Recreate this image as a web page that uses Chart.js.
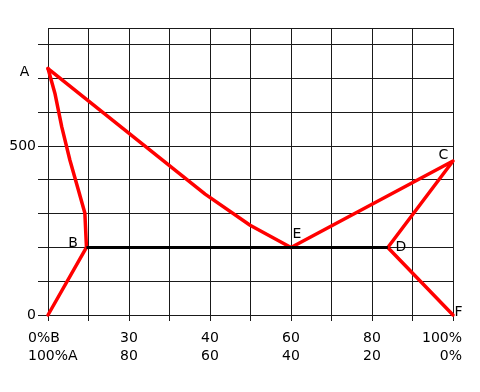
<!DOCTYPE html>
<html>
<head>
<meta charset="utf-8">
<script src="https://cdn.jsdelivr.net/npm/chart.js@4.4.0/dist/chart.umd.min.js"></script>
<style>
    body { margin: 0; background: #fff; }
</style>
</head>
<body>
<canvas id="chart" width="480" height="392"></canvas>
<script>
// x axis: % of B, tick labels written in two rows
let xTicks = [0, 20, 40, 60, 80, 100];
let xTopLabels = ['0%B', '30', '40', '60', '80', '100%'];
let xBottomLabels = ['100%A', '80', '60', '40', '20', '0%'];
// y axis: only these values carry a label
let yLabelValues = [0, 500];

// liquidus from A down to B
let curveABx = [0, 1.7, 3.4, 5.4, 7.5, 9.1, 9.5];
let curveABy = [730, 657, 557, 459, 370, 302, 200];
// liquidus from A down to E
let curveAEx = [0, 38.8, 49.9, 60];
let curveAEy = [730, 358, 266, 200];
// E -> C -> D -> F
let curveECDFx = [60, 100, 83.9, 100];
let curveECDFy = [200, 456, 200, 0];
// origin -> B
let curveOBx = [0, 9.5];
let curveOBy = [0, 200];
// eutectic line B -> D
let lineBDx = [9.5, 83.9];
let lineBDy = [200, 200];

// named points
let pointNames = ['A', 'B', 'C', 'D', 'E', 'F'];
let pointX = [0, 9.5, 100, 83.9, 60, 100];
let pointY = [730, 200, 456, 200, 200, 0];

function toXY(xs, ys) {
    let out = [];
    for (let i = 0; i < xs.length; i++) {
        out.push({x: xs[i], y: ys[i]});
    }
    return out;
}

let font = '14px "DejaVu Sans", sans-serif';
let gridColor = '#1a1a1a';

// label offsets from each point, in pixels
let nameOffsets = {
    A: [-23.5, 2], B: [-13.5, -5], C: [-9.5, -7],
    D: [13, -1], E: [6, -14], F: [5.5, -4]
};

let labelsPlugin = {
    id: 'labels',
    afterDraw: (chart) => {
        let ctx = chart.ctx;
        let xs = chart.scales.x;
        let ys = chart.scales.y;
        ctx.save();
        ctx.font = font;
        ctx.fillStyle = '#000';
        ctx.textBaseline = 'alphabetic';
        // x tick labels
        for (let i = 0; i < xTicks.length; i++) {
            let px = xs.getPixelForValue(xTicks[i]);
            if (i === 0) {
                ctx.textAlign = 'left';
                px -= 20;
            } else if (i === xTicks.length - 1) {
                ctx.textAlign = 'right';
                px += 9;
            } else {
                ctx.textAlign = 'center';
            }
            ctx.fillText(xTopLabels[i], px, 342);
            ctx.fillText(xBottomLabels[i], px, 360);
        }
        // point names
        ctx.textAlign = 'center';
        for (let i = 0; i < pointNames.length; i++) {
            let off = nameOffsets[pointNames[i]];
            let px = xs.getPixelForValue(pointX[i]) + off[0];
            let py = ys.getPixelForValue(pointY[i]) + off[1];
            ctx.fillText(pointNames[i], px, py + 5);
        }
        ctx.restore();
    }
};

let red = {
    borderColor: '#ff0000',
    borderWidth: 3.5,
    pointRadius: 0,
    borderJoinStyle: 'round',
    borderCapStyle: 'round',
    clip: false,
    tension: 0
};

let chart = new Chart(document.getElementById('chart'), {
    type: 'line',
    data: {
        datasets: [
            Object.assign({data: toXY(lineBDx, lineBDy)}, red, {borderColor: '#000', borderWidth: 3, borderCapStyle: 'butt'}),
            Object.assign({data: toXY(curveABx, curveABy)}, red),
            Object.assign({data: toXY(curveAEx, curveAEy)}, red),
            Object.assign({data: toXY(curveECDFx, curveECDFy)}, red),
            Object.assign({data: toXY(curveOBx, curveOBy)}, red)
        ]
    },
    options: {
        responsive: false,
        animation: false,
        devicePixelRatio: 1,
        layout: { padding: { top: 28, right: 27, bottom: 0, left: 0 } },
        plugins: {
            legend: { display: false },
            tooltip: { enabled: false }
        },
        scales: {
            x: {
                type: 'linear',
                min: 0,
                max: 100,
                ticks: { stepSize: 10, display: false },
                grid: { color: gridColor, lineWidth: 1, tickLength: 6 },
                border: { color: gridColor, width: 1 },
                afterFit: (scale) => { scale.height = 77; }
            },
            x2: {
                type: 'linear',
                position: 'top',
                min: 0,
                max: 100,
                ticks: { display: false },
                grid: { display: false },
                border: { display: true, color: gridColor, width: 1 },
                afterFit: (scale) => { scale.height = 0; }
            },
            y: {
                type: 'linear',
                min: 0,
                max: 850,
                ticks: {
                    stepSize: 100,
                    includeBounds: false,
                    padding: 2,
                    color: '#000',
                    font: { family: '"DejaVu Sans", sans-serif', size: 14 },
                    callback: (v) => yLabelValues.indexOf(v) >= 0 ? String(v) : ''
                },
                grid: { color: gridColor, lineWidth: 1, tickLength: 10 },
                border: { color: gridColor, width: 1 },
                afterFit: (scale) => { scale.width = 48; }
            }
        }
    },
    plugins: [labelsPlugin]
});
</script>
</body>
</html>
